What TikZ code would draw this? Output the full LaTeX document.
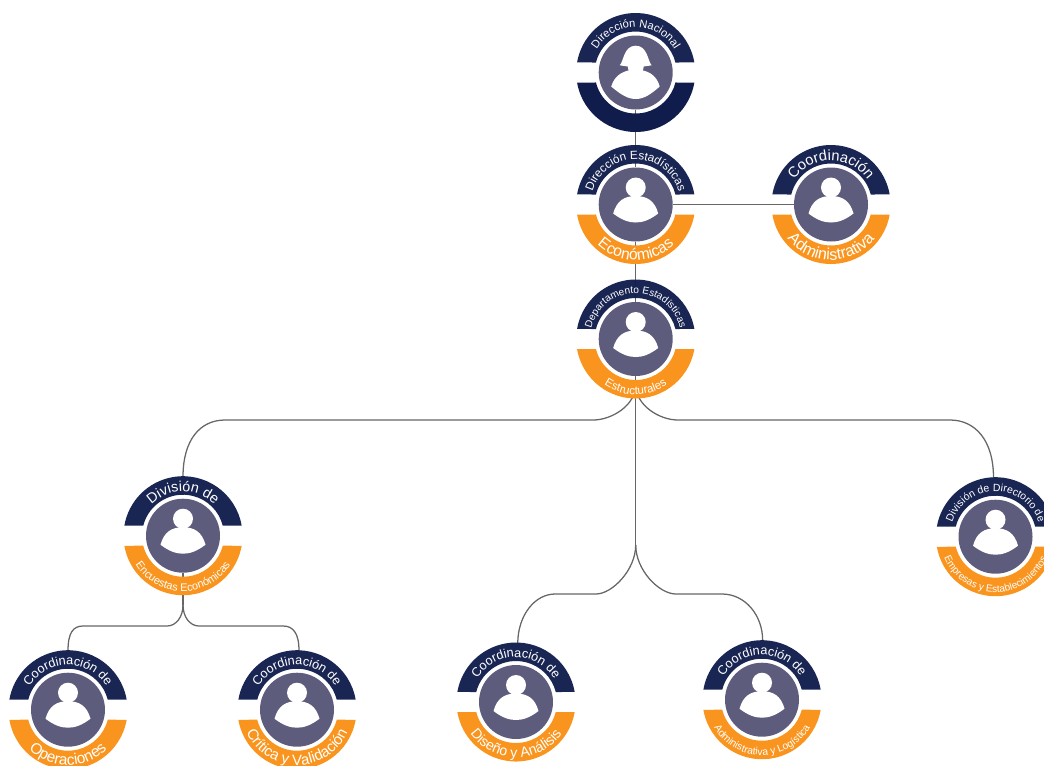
\documentclass[tikz,border=0pt]{standalone}
\usepackage{fontspec}
\setmainfont{Liberation Sans}
\usetikzlibrary{decorations.text}
\definecolor{navyband}{HTML}{101C4B}
\definecolor{orangeband}{HTML}{F9951F}
\definecolor{facegray}{HTML}{5E5C7C}
\definecolor{linkgray}{HTML}{666666}
\pgfdeclarelayer{bands}
\pgfdeclarelayer{links}
\pgfdeclarelayer{labels}
\pgfsetlayers{links,bands,main,labels}
\tikzset{
  face/.style={circle, fill=facegray, minimum size=55.5pt, inner sep=0pt},
  link/.style={draw=linkgray, line width=0.95pt},
}
\newcommand{\plainicon}{
\fill[white] (0,17) circle (10);
\fill[white] (-22.5,-9) .. controls (-19,4) and (-11,8.5) .. (0,8.5) .. controls (11,8.5) and (19,4) .. (22.5,-9) .. controls (14,-15.5) and (7,-18) .. (0,-18) .. controls (-7,-18) and (-14,-15.5) .. (-22.5,-9)--cycle;
}
\newcommand{\helmeticon}{
\fill[white] (-16,7.2) .. controls (-12,11) and (-12,26.8) .. (0,26.8) .. controls (12,26.8) and (12,11) .. (16,7.2)--(8,6)--(7,1)--(-7,1)--(-8,6)--cycle;
\fill[white] (-24.5,-14) .. controls (-21,-2) and (-11,2.8) .. (0,2.8) .. controls (11,2.8) and (21,-2) .. (24,-14) .. controls (15,-22) and (8,-26.5) .. (0,-26.5) .. controls (-8,-26.5) and (-15,-22) .. (-24.5,-14)--cycle;
}
% #1 icon, #2 name, #3 centre, #4 lower colour, #5 upper size, #6 upper text, #7 lower size, #8 lower text
\newcommand{\badge}[8][\plainicon]{
\begin{scope}[shift={(#3)}]
\begin{pgfonlayer}{bands}
\fill[navyband, fill opacity=.96] (9.76:59.5) arc (9.76:170.24:59.5)--(165.9:41) arc (165.9:14.1:41)--cycle;
\fill[#4] (-9.76:59.5) arc (-9.76:-170.24:59.5)--(-165.9:41) arc (-165.9:-14.1:41)--cycle;
\end{pgfonlayer}
\coordinate (#2 top) at (0,59);
\node[face] (#2) at (0,0) {};
#1
\pgfmathsetmacro{\uprad}{49.5-.5*#5}
\begin{pgfonlayer}{labels}
\path[decorate, decoration={text along path, text align=center, text={|\color{white}\fontsize{#5}{#5}\selectfont|#6}}] (210:\uprad) arc (210:-30:\uprad);
\path[decorate, decoration={text along path, text align=center, text={|\color{white}\fontsize{#7}{#7}\selectfont|#8}}] (150:55.5) arc (150:390:55.5);
\end{pgfonlayer}
\end{scope}
}
\begin{document}
\begin{tikzpicture}[x=0.75pt,y=0.75pt]
\useasboundingbox (0,0) rectangle (1044,-765);
\badge[\helmeticon]{nacional}{635.7,-72.5}{navyband}{8.4}{Dirección Nacional}{9}{}
\badge{economicas}{635.7,-204.5}{orangeband}{8.8}{Dirección Estadísticas}{11.7}{Económicas}
\badge{administrativa}{831,-204.5}{orangeband}{11}{Coordinación}{12}{Administrativa}
\badge{estructurales}{635.7,-339}{orangeband}{7.6}{Departamento Estadísticas}{8.6}{Estructurales}
\badge{encuestas}{183,-535.7}{orangeband}{10.7}{División de}{8.2}{Encuestas Económicas}
\badge{directorio}{995.5,-536.7}{orangeband}{7.9}{División de Directorio de}{7.5}{Empresas y Establecimientos}
\badge{operaciones}{68,-709.7}{orangeband}{9.5}{Coordinación de}{11.5}{Operaciones}
\badge{critica}{297,-709.7}{orangeband}{9.5}{Coordinación de}{11.2}{Crítica y Validación}
\badge{diseno}{516,-702}{orangeband}{9.5}{Coordinación de}{10.6}{Diseño y Análisis}
\badge{logistica}{762,-699.7}{orangeband}{9.5}{Coordinación de}{7.7}{Administrativa y Logística}
\coordinate (upperfork) at (635.7,-385);
\coordinate (lowerfork) at (635.7,-545);
\coordinate (leftfork) at (183,-605);
\begin{pgfonlayer}{links}
\draw[link] (nacional)--(economicas);
\draw[link] (economicas)--(estructurales);
\draw[link] (economicas)--(administrativa);
\draw[link] (estructurales)--(lowerfork);
\draw[link] (upperfork) .. controls (635.7,-405) and (612,-420) .. (593,-420)--(225,-420) .. controls (200,-420) and (183,-440) .. (encuestas top);
\draw[link] (upperfork) .. controls (635.7,-405) and (659,-420) .. (678,-420)--(950,-420) .. controls (975,-420) and (993.5,-440) .. ([xshift=-1.5pt]directorio top);
\draw[link] (lowerfork) .. controls (635.7,-570) and (612,-594) .. (596,-594)--(555,-594) .. controls (535,-594) and (518,-615) .. ([xshift=1.3pt]diseno top);
\draw[link] (lowerfork) .. controls (635.7,-570) and (659,-594) .. (676,-594)--(722,-594) .. controls (745,-594) and (762.7,-615) .. ([xshift=.5pt]logistica top);
\draw[link] (encuestas)--(leftfork);
\draw[link] (leftfork) .. controls (183,-617) and (176,-626) .. (167,-626)--(83,-626) .. controls (73,-626) and (68,-633) .. (operaciones top);
\draw[link] (leftfork) .. controls (183,-617) and (190,-626) .. (199,-626)--(283,-626) .. controls (293,-626) and (299,-633) .. ([xshift=1.5pt]critica top);
\end{pgfonlayer}
\end{tikzpicture}
\end{document}
